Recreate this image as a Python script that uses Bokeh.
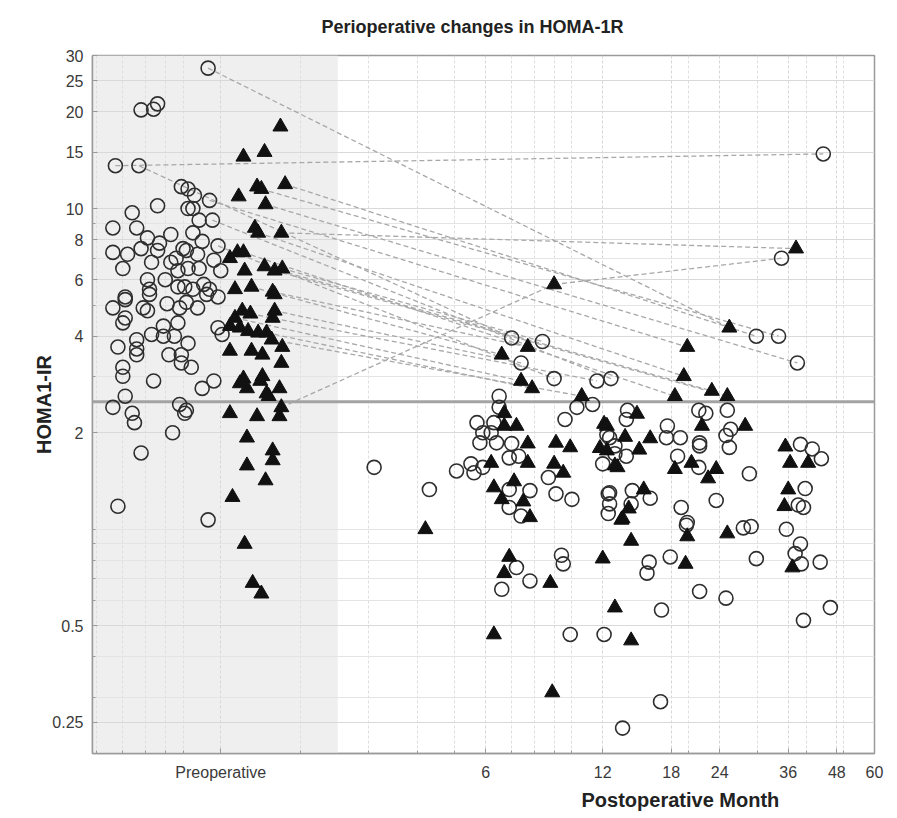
from bokeh.plotting import figure
from bokeh.models import (FixedTicker, BoxAnnotation, Span, Title, ColumnDataSource)
from bokeh.embed import file_html
from bokeh.resources import INLINE

# ---------------- data ----------------
title_text = "Perioperative changes in HOMA-1R"
y_label = "HOMA1-IR"
x_label = "Postoperative Month"

x_tick_values = [1.25, 6, 12, 18, 24, 36, 48, 60]
x_tick_labels = ["Preoperative", "6", "12", "18", "24", "36", "48", "60"]
x_minor_values = [0.6, 0.7, 0.8, 0.9, 1, 2, 3, 4, 5, 7, 8, 9, 10, 20, 30, 40, 50]
y_tick_values = [0.25, 0.5, 2, 4, 6, 8, 10, 15, 20, 25, 30]
y_tick_labels = ["0.25", "0.5", "2", "4", "6", "8", "10", "15", "20", "25", "30"]
y_minor_values = [0.2, 0.3, 0.4, 0.6, 0.7, 0.8, 0.9, 1, 3, 5, 7, 9]
preop_zone_end = 2.5
cutoff = 2.5

# preoperative values (x = jitter position inside the preoperative band)
pre_circle_x = [1.16, 0.78, 0.84, 0.86, 0.67, 0.77, 0.99, 1.03, 1.07, 1.17, 0.86, 0.74, 1.03, 1.06,
                0.66, 0.76, 1.10, 1.19, 0.93, 0.81, 1.06, 1.12, 1.23, 0.66, 0.72, 0.86, 0.78, 1.00,
                1.02, 1.09, 0.70, 0.93, 1.03, 1.20, 1.25, 0.81, 0.90, 0.97, 1.01, 1.06, 1.13, 1.17,
                0.71, 0.82, 0.87, 0.96, 0.83, 0.97, 1.10,
                0.66, 0.71, 0.79, 0.81, 0.91, 0.98, 1.02, 1.09, 1.23, 1.15, 0.82, 0.70, 0.71, 0.89,
                0.97, 0.83, 0.89, 0.95, 1.23, 1.26, 0.68, 0.76, 0.76, 0.76, 1.03, 0.92, 0.99, 0.99,
                1.05, 0.70, 0.70, 0.84, 1.12, 1.20, 0.71, 0.66, 0.74, 0.75, 0.98, 1.02, 1.01, 0.94,
                0.78, 0.68, 1.16]
pre_circle_y = [27.4, 20.3, 20.4, 21.2, 13.6, 13.6, 11.7, 11.5, 11.0, 10.6, 10.2, 9.7, 10.0, 10.0,
                8.7, 8.7, 9.2, 9.2, 8.3, 8.1, 8.4, 7.9, 7.65, 7.3, 7.2, 7.4, 7.5, 7.5,
                7.4, 7.2, 6.5, 6.8, 6.5, 6.9, 6.4, 6.0, 6.0, 5.7, 5.7, 5.6, 5.8, 5.6,
                5.3, 5.6, 7.8, 7.0, 6.8, 6.4, 6.5,
                4.9, 5.2, 4.9, 4.8, 5.05, 4.9, 5.1, 4.9, 5.3, 5.4, 5.4, 4.4, 4.56, 4.3,
                4.4, 4.05, 4.0, 4.0, 4.25, 4.05, 3.7, 3.9, 3.65, 3.5, 3.8, 3.5, 3.5, 3.3,
                3.2, 3.2, 3.0, 2.9, 2.75, 2.9, 2.6, 2.4, 2.3, 2.15, 2.45, 2.35, 2.3, 2.0,
                1.73, 1.18, 1.07]

pre_tri_x = [1.78, 1.43, 1.62, 1.39, 1.55, 1.59, 1.63, 1.83, 1.53, 1.56, 1.79, 1.32, 1.38, 1.43,
             1.44, 1.62, 1.72, 1.80, 1.36, 1.50, 1.70, 1.72, 1.72, 1.70, 1.36, 1.42, 1.49, 1.32,
             1.40, 1.47, 1.56, 1.64, 1.69, 1.80, 1.32, 1.50, 1.60, 1.79, 1.43, 1.40, 1.60, 1.58,
             1.46, 1.64, 1.77, 1.66, 1.79, 1.32, 1.55, 1.77, 1.46, 1.70, 1.70, 1.46, 1.63, 1.34,
             1.44, 1.51, 1.59]
pre_tri_y = [18.0, 14.5, 15.0, 10.9, 11.7, 11.5, 10.3, 11.9, 8.7, 8.4, 8.4, 7.0, 7.3, 7.3,
             6.4, 6.6, 6.4, 6.5, 5.6, 5.7, 5.5, 5.4, 4.8, 4.56, 4.56, 4.8, 4.7, 4.3,
             4.25, 4.15, 4.1, 4.1, 3.9, 3.7, 3.6, 3.6, 3.5, 3.3, 2.95, 2.85, 3.0, 2.9,
             2.75, 2.65, 2.75, 2.6, 2.4, 2.3, 2.25, 2.25, 1.93, 1.76, 1.64, 1.58, 1.42, 1.26,
             0.9, 0.68, 0.63]

# postoperative values (x = month after surgery)
post_circle_month = [44.3, 34.6, 29.8, 34.0, 38.0, 7.0, 8.4, 7.4, 9.0, 11.6, 12.6, 6.5, 11.3, 10.3,
                     9.6, 6.5, 5.7, 6.3, 5.9, 6.2, 5.8, 6.4, 7.0, 6.9, 7.3, 5.9, 5.5, 5.05, 5.6,
                     3.1, 8.7, 4.3, 6.9, 7.8, 6.9, 9.1, 10.0, 7.4, 12.4, 12.5, 12.4, 12.5, 12.0,
                     7.2, 7.8, 6.6, 9.4, 9.5, 9.9, 12.1, 16.9, 13.5, 17.0, 21.3, 24.9, 39.4, 46.2,
                     15.8, 15.6, 17.9, 19.7, 27.6, 28.9, 35.6, 38.7, 37.5, 38.9, 43.5, 29.8,
                     13.9, 13.8, 12.3, 12.9, 13.8, 12.9, 17.6, 17.5, 19.0, 21.2, 22.1, 25.1,
                     21.3, 21.3, 24.9, 25.6, 25.4, 18.7, 21.2, 28.6, 23.5, 19.1, 19.8, 38.7,
                     41.5, 43.8, 39.8, 38.2, 39.4, 14.3, 14.2, 15.9, 12.5]
post_circle_homa = [14.8, 7.0, 4.0, 4.0, 3.3, 3.95, 3.85, 3.3, 2.95, 2.9, 2.95, 2.6, 2.45, 2.4,
                    2.2, 2.4, 2.15, 2.15, 2.0, 2.0, 1.86, 1.86, 1.85, 1.67, 1.69, 1.56, 1.6, 1.52, 1.5,
                    1.56, 1.45, 1.33, 1.33, 1.32, 1.17, 1.29, 1.24, 1.1, 1.29, 1.2, 1.12, 1.93, 1.6,
                    0.76, 0.69, 0.65, 0.83, 0.78, 0.47, 0.47, 0.29, 0.24, 0.56, 0.64, 0.61, 0.52, 0.57,
                    0.79, 0.73, 0.82, 1.03, 1.01, 1.02, 1.0, 0.9, 0.84, 0.78, 0.79, 0.81,
                    2.35, 2.2, 1.97, 1.82, 1.69, 1.72, 2.1, 1.93, 1.93, 2.35, 2.3, 2.35,
                    1.86, 1.82, 1.96, 2.05, 1.8, 1.69, 1.56, 1.49, 1.23, 1.17, 1.05, 1.84,
                    1.78, 1.66, 1.34, 1.19, 1.17, 1.32, 1.2, 1.25, 1.3]

post_tri_month = [25.4, 37.7, 9.0, 19.8, 19.4, 18.4, 22.9, 25.1, 6.6, 7.7, 7.4, 7.9, 10.6, 6.7,
                  6.7, 7.2, 7.7, 9.1, 9.9, 7.7, 6.2, 9.0, 9.5, 6.3, 7.1, 6.6, 7.5, 7.8, 4.2,
                  6.9, 6.7, 8.8, 12.0, 12.9, 6.3, 8.9, 14.2, 19.6, 14.2, 19.8, 25.1, 36.9, 13.4,
                  14.7, 12.3, 13.7, 15.9, 14.9, 13.1, 12.3, 21.6, 27.9, 20.3, 18.4, 23.5, 22.4,
                  35.4, 36.4, 40.5, 36.0, 35.2, 15.3, 13.5, 14.0, 12.1, 11.8, 12.9]
post_tri_homa = [4.25, 7.5, 5.8, 3.7, 3.0, 2.6, 2.7, 2.6, 3.5, 3.7, 2.9, 2.75, 2.6, 2.3,
                 2.1, 2.1, 1.85, 1.86, 1.8, 1.61, 1.61, 1.6, 1.5, 1.35, 1.41, 1.24, 1.22, 1.09, 1.0,
                 0.82, 0.73, 0.68, 0.81, 0.57, 0.47, 0.31, 0.45, 0.78, 0.92, 0.95, 0.97, 0.76, 1.07,
                 2.29, 2.1, 1.94, 1.92, 1.77, 1.56, 1.76, 2.1, 2.1, 1.61, 1.54, 1.54, 1.44,
                 1.81, 1.61, 1.61, 1.33, 1.18, 1.33, 1.08, 1.16, 2.13, 1.79, 1.58]

# paired follow-up links (start -> end)
link_x0 = [1.16, 0.67, 1.79, 1.79, 9.0, 1.83, 1.59, 1.63, 1.17, 1.56, 1.43, 1.62, 1.72,
           0.77, 1.80, 1.50, 1.70, 1.72, 1.23, 1.36, 1.64, 1.49, 1.19, 1.69]
link_y0 = [27.4, 13.6, 8.4, 2.4, 5.8, 11.9, 11.5, 10.3, 10.6, 8.4, 7.3, 6.6, 6.4,
           13.6, 6.5, 5.7, 5.5, 4.8, 7.65, 4.56, 4.1, 4.7, 9.2, 3.9]
link_x1 = [25.4, 44.3, 37.7, 9.0, 34.6, 29.8, 34.0, 38.0, 19.8, 19.4, 18.4, 22.9, 25.1,
           7.0, 8.4, 6.6, 7.7, 7.4, 9.0, 7.4, 7.9, 11.6, 12.6, 10.6]
link_y1 = [4.25, 14.8, 7.5, 5.8, 7.0, 4.0, 4.0, 3.3, 3.7, 3.0, 2.6, 2.7, 2.6,
           3.95, 3.85, 3.5, 3.7, 3.3, 2.95, 2.9, 2.75, 2.9, 2.95, 2.6]

# ---------------- figure ----------------
FONT = "Liberation Sans"
p = figure(width=897, height=818, x_axis_type="log", y_axis_type="log",
           x_range=(0.585, 60), y_range=(0.2, 30),
           output_backend="svg", toolbar_location=None,
           min_border_left=92, min_border_right=23, min_border_top=55, min_border_bottom=65)
p.background_fill_color = "white"
p.border_fill_color = "white"
p.outline_line_color = "#9a9a9a"
p.outline_line_width = 1.5

# title (positioned over the chart like the original)
p.title = Title(text=title_text, align="left", offset=229, text_font=FONT,
                text_font_size="18px", text_font_style="bold", text_color="#222222",
                vertical_align="top", standoff=33)

# preoperative band
p.add_layout(BoxAnnotation(left=0.585, right=preop_zone_end, fill_color="#efefef",
                           fill_alpha=1.0, line_alpha=0, level="image"))

# axes / ticks
p.xaxis.ticker = FixedTicker(ticks=x_tick_values, minor_ticks=x_minor_values)
p.yaxis.ticker = FixedTicker(ticks=y_tick_values, minor_ticks=y_minor_values)
p.xaxis.major_label_overrides = {float(v): t for v, t in zip(x_tick_values, x_tick_labels)}
p.yaxis.major_label_overrides = {float(v): t for v, t in zip(y_tick_values, y_tick_labels)}
for ax in (p.xaxis[0], p.yaxis[0]):
    ax.axis_line_color = "#9a9a9a"
    ax.axis_line_width = 1.5
    ax.major_tick_in = 5
    ax.major_tick_out = 0
    ax.minor_tick_in = 3
    ax.minor_tick_out = 0
    ax.major_tick_line_color = "#9a9a9a"
    ax.minor_tick_line_color = "#9a9a9a"
    ax.major_label_text_font = FONT
    ax.major_label_text_font_size = "16px"
    ax.major_label_text_color = "#3a3a3a"
p.xaxis.major_label_standoff = 10
p.yaxis.major_label_standoff = 9
p.yaxis.axis_label = y_label
p.yaxis.axis_label_text_font = FONT
p.yaxis.axis_label_text_font_size = "20px"
p.yaxis.axis_label_text_font_style = "bold"
p.yaxis.axis_label_text_color = "#222222"
p.yaxis.axis_label_standoff = -6

# x axis label placed under the postoperative part
p.add_layout(Title(text=x_label, align="left", offset=489, text_font=FONT,
                   text_font_size="20px", text_font_style="bold", text_color="#222222",
                   standoff=6), "below")

# grids
p.xgrid.grid_line_color = "#d6d6d6"
p.xgrid.grid_line_dash = "3 2"
p.xgrid.minor_grid_line_color = "#dedede"
p.xgrid.minor_grid_line_dash = "3 2"
p.ygrid.grid_line_color = "#d9d9d9"
p.ygrid.minor_grid_line_color = "#e4e4e4"

# cut-off line
p.add_layout(Span(location=cutoff, dimension="width", line_color="#a3a3a3",
                  line_width=3, level="underlay"))

# follow-up links
links = ColumnDataSource(dict(x0=link_x0, y0=link_y0, x1=link_x1, y1=link_y1))
p.segment("x0", "y0", "x1", "y1", source=links, line_color="#a8a8a8",
          line_width=1.3, line_dash="5 3")

# markers
circle_kw = dict(marker="circle", size=14, fill_alpha=0, line_color="#2e2e2e", line_width=1.6)
tri_kw = dict(marker="triangle", size=15, fill_color="#111111", line_color="#111111", line_width=1)
p.scatter(pre_circle_x, pre_circle_y, **circle_kw)
p.scatter(post_circle_month, post_circle_homa, **circle_kw)
p.scatter(pre_tri_x, pre_tri_y, **tri_kw)
p.scatter(post_tri_month, post_tri_homa, **tri_kw)

open("out.html", "w").write(file_html(p, INLINE))
